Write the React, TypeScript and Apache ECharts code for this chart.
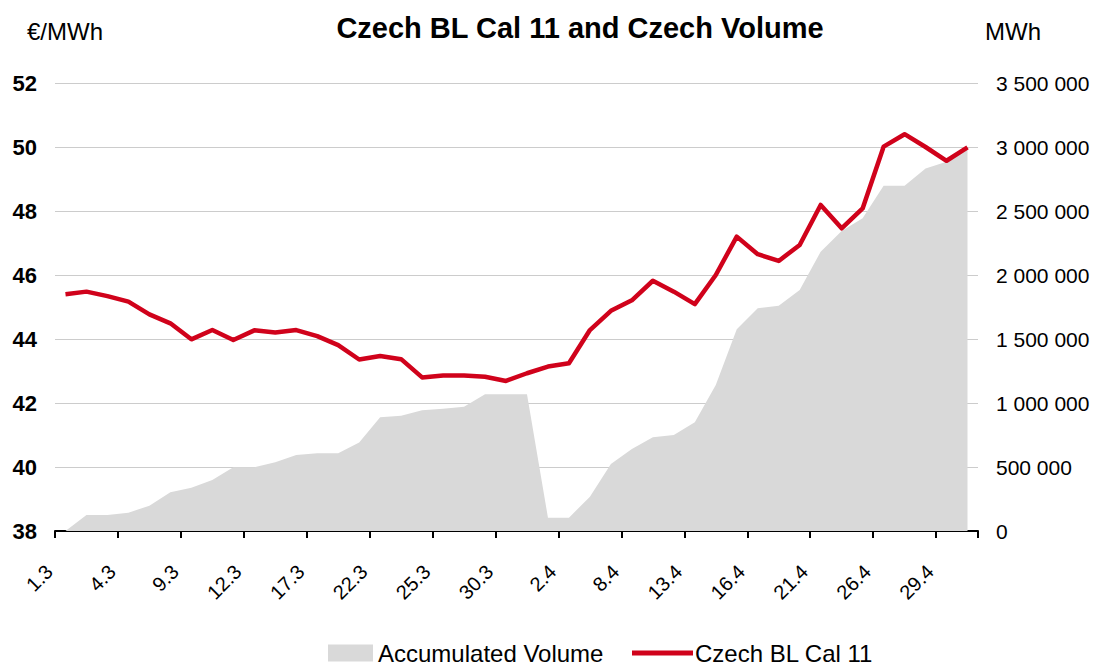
import React, { useEffect, useRef } from "react";
import * as echarts from "echarts";

const dates: string[] = [
  "1.3", "2.3", "3.3", "4.3", "5.3", "8.3", "9.3", "10.3", "11.3", "12.3",
  "15.3", "16.3", "17.3", "18.3", "19.3", "22.3", "23.3", "24.3", "25.3", "26.3",
  "29.3", "30.3", "31.3", "1.4", "2.4", "6.4", "7.4", "8.4", "9.4", "12.4",
  "13.4", "14.4", "15.4", "16.4", "19.4", "20.4", "21.4", "22.4", "23.4", "26.4",
  "27.4", "28.4", "29.4", "30.4",
];

const priceCal11: number[] = [
  45.4, 45.48, 45.34, 45.17, 44.77, 44.49, 43.99, 44.28, 43.97, 44.27,
  44.2, 44.28, 44.09, 43.81, 43.36, 43.47, 43.37, 42.8, 42.86, 42.86,
  42.82, 42.69, 42.93, 43.14, 43.24, 44.28, 44.88, 45.21, 45.82, 45.48,
  45.09, 46.0, 47.2, 46.65, 46.44, 46.94, 48.19, 47.46, 48.08, 50.01,
  50.4, 50.0, 49.57, 49.99,
];

const accumulatedVolume: number[] = [
  0, 125000, 125000, 143000, 198000, 302000, 338000, 398000, 498000, 498000,
  537000, 594000, 607000, 607000, 691000, 888000, 901000, 943000, 955000, 971000,
  1068000, 1068000, 1068000, 104000, 104000, 268000, 523000, 640000, 732000, 750000,
  849000, 1141000, 1576000, 1740000, 1760000, 1883000, 2182000, 2344000, 2443000, 2698000,
  2698000, 2833000, 2885000, 2982000,
];

const FONT = "'Liberation Sans', Arial, sans-serif";
const RED = "#d0021b";
const GREY = "#d9d9d9";

function fmtSpace(v: number): string {
  return String(Math.round(v)).replace(/\B(?=(\d{3})+(?!\d))/g, " ");
}

export default function App() {
  const ref = useRef<HTMLDivElement>(null);
  useEffect(() => {
    if (!ref.current) return;
    const chart = echarts.init(ref.current, undefined, { renderer: "svg" });
    chart.setOption({
      animation: false,
      backgroundColor: "#ffffff",
      textStyle: { fontFamily: FONT },
      title: {
        text: "Czech BL Cal 11 and Czech Volume",
        left: 575,
        textAlign: "center",
        top: 8,
        textStyle: { fontFamily: FONT, fontWeight: "bold", fontSize: 29, color: "#000" },
      },
      graphic: [
        {
          type: "text",
          left: 27,
          top: 19,
          style: { text: "€/MWh", font: `24px ${FONT}`, fill: "#000" },
        },
        {
          type: "text",
          left: 985,
          top: 19,
          style: { text: "MWh", font: `24px ${FONT}`, fill: "#000" },
        },
      ],
      legend: [
        {
          data: [{ name: "Accumulated Volume", icon: "rect" }],
          left: 328,
          top: 641,
          itemWidth: 45,
          itemHeight: 17,
          itemGap: 5,
          padding: 0,
          textStyle: { fontFamily: FONT, fontSize: 24, lineHeight: 24, color: "#000" },
        },
        {
          data: [{ name: "Czech BL Cal 11", icon: "rect" }],
          left: 632,
          top: 641,
          itemWidth: 61,
          itemHeight: 5,
          padding: 0,
          textStyle: { fontFamily: FONT, fontSize: 24, lineHeight: 24, color: "#000", padding: [0, 0, 0, -3] },
        },
      ],
      grid: { left: 55, right: 123, top: 83, bottom: 137, containLabel: false },
      xAxis: {
        type: "category",
        data: dates,
        boundaryGap: true,
        axisLine: { show: true, lineStyle: { color: "#000", width: 2 } },
        axisTick: { show: true, interval: 2, length: 7, lineStyle: { color: "#000", width: 2 } },
        axisLabel: {
          interval: 2,
          rotate: 45,
          margin: 21,
          padding: [0, 23, 0, 0],
          fontSize: 20,
          color: "#000",
          fontFamily: FONT,
        },
        splitLine: { show: false },
      },
      yAxis: [
        {
          type: "value",
          min: 38,
          max: 52,
          interval: 2,
          position: "left",
          axisLine: { show: false },
          axisTick: { show: false },
          axisLabel: { fontSize: 22, fontWeight: "bold", color: "#000", margin: 18, fontFamily: FONT },
          splitLine: { show: true, lineStyle: { color: "#cccccc", width: 1 } },
        },
        {
          type: "value",
          min: 0,
          max: 3500000,
          interval: 500000,
          position: "right",
          axisLine: { show: false },
          axisTick: { show: false },
          axisLabel: {
            fontSize: 21,
            color: "#000",
            margin: 18,
            fontFamily: FONT,
            formatter: (v: number) => fmtSpace(v),
          },
          splitLine: { show: false },
        },
      ],
      series: [
        {
          name: "Accumulated Volume",
          type: "line",
          yAxisIndex: 1,
          data: accumulatedVolume,
          symbol: "none",
          lineStyle: { width: 0, color: GREY },
          itemStyle: { color: GREY },
          areaStyle: { color: GREY, opacity: 1 },
          z: 1,
        },
        {
          name: "Czech BL Cal 11",
          type: "line",
          yAxisIndex: 0,
          data: priceCal11,
          symbol: "none",
          lineStyle: { width: 4.5, color: RED, join: "round" },
          itemStyle: { color: RED },
          z: 3,
        },
      ],
    });
    return () => chart.dispose();
  }, []);
  return (
    <div
      ref={ref}
      style={{ position: "fixed", left: 0, top: 0, width: 1101, height: 668, background: "#fff" }}
    />
  );
}
